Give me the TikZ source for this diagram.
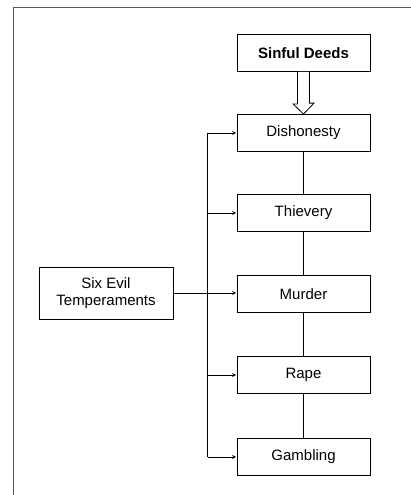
\documentclass[tikz,border=0pt]{standalone}
\usepackage{fontspec}
\setmainfont{Liberation Sans}
\usetikzlibrary{arrows,positioning}

\begin{document}
\begin{tikzpicture}
	[x=1pt, y=-1pt, inner sep=0pt, line width=0.8pt,
	font=\fontsize{15}{17}\selectfont,
	deed/.style	= {rectangle,draw,minimum width=133pt,minimum height=37pt},
	cause/.style	= {rectangle,draw,align=center,minimum width=134pt,minimum height=52pt},
	paths/.style	= {->, >=stealth, shorten >= 0.5pt},
	hollow/.style	= {draw, fill=white, line join=miter},
	frame/.style	= {draw=black!65, line width=1pt}]
	
	\useasboundingbox (0,0) rectangle (410,495);
	\draw [frame] (420,505) -- (13.5,505) -- (13.5,8) -- (420,8);
	
	\node at (303.5, 53)	[deed]	(sd)	{\bfseries Sinful Deeds};
	\node at (303.5, 133)	[deed]	(dis)	{Dishonesty};
	\node at (303.5, 213)	[deed]	(thi)	{Thievery};
	\node at (303.5, 294)	[deed]	(mur)	{Murder};
	\node at (303.5, 375)	[deed]	(rap)	{Rape};
	\node at (303.5, 457)	[deed]	(gam)	{Gambling};
	
	\node at (106, 293)		[cause]	(evil)	{Six Evil\\Temperaments};
	
	\coordinate (bustop) at (207.5, 133);
	\coordinate (busbot) at (207.5, 457);
	
	\draw [hollow] ([xshift=-6pt]sd.south) -- ++(0,32) -- ++(-4.5,0) -- (dis.north) -- ++(10.5,-11) -- ++(-4.5,0) -- ([xshift=6pt]sd.south);
	
	\draw (dis) -- (thi);
	\draw (thi) -- (mur);
	\draw (mur) -- (rap);
	\draw (rap) -- (gam);
	
	\draw (bustop) -- (busbot);
	\draw [paths] (bustop) -- (dis.west);
	\draw [paths] (bustop |- thi.west) -- (thi.west);
	\draw [paths] (bustop |- rap.west) -- (rap.west);
	\draw [paths] (busbot) -- (gam.west);
	\draw [paths] (evil.east) -- (mur.west |- evil.east);
	
\end{tikzpicture}
\end{document}
